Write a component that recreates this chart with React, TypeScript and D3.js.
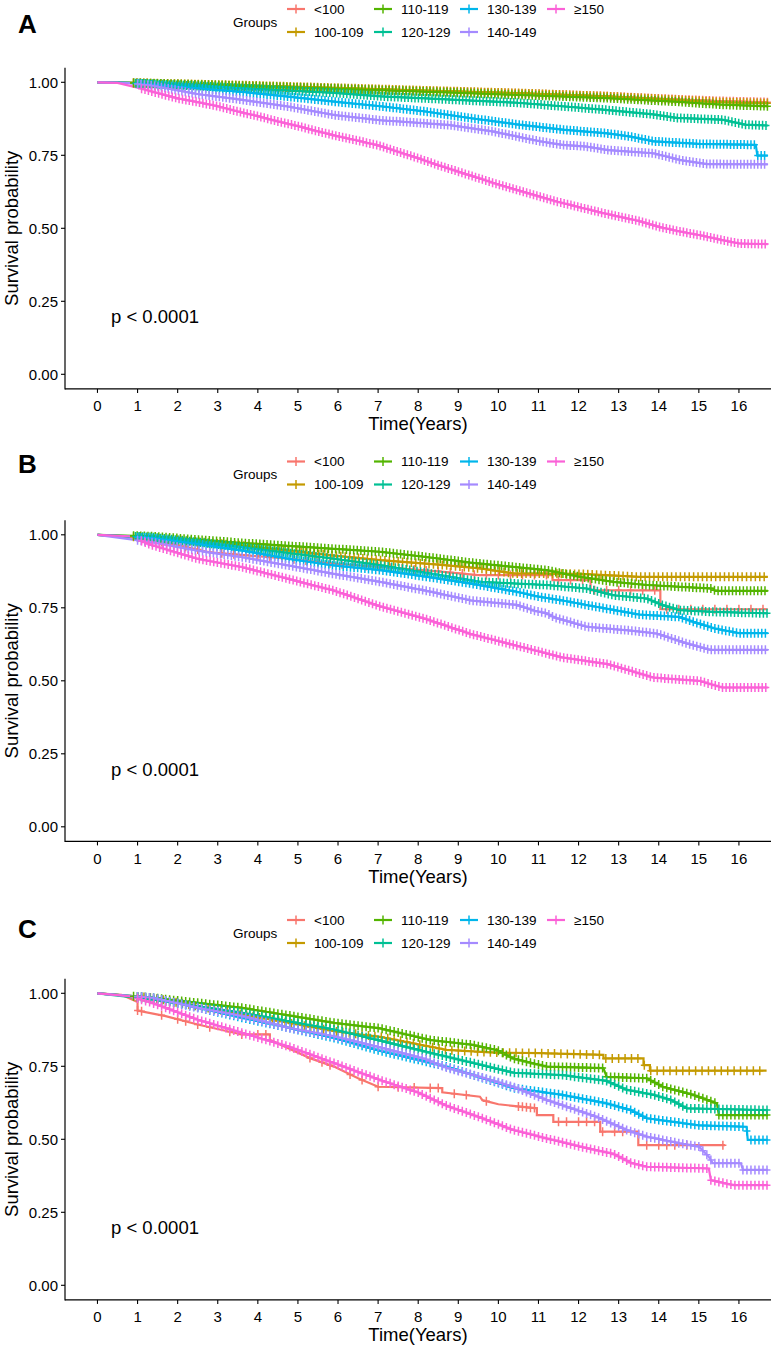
import React from "react";
import * as d3 from "d3";

const groups = ["<100", "100-109", "110-119", "120-129", "130-139", "140-149", "≥150"];
const groupColors = ["#F8766D", "#C49A00", "#53B400", "#00C094", "#00B6EB", "#A58AFF", "#FB61D7"];
const panelLabels = ["A", "B", "C"];
const pLabels = ["p < 0.0001", "p < 0.0001", "p < 0.0001"];
const xTickValues = [0, 1, 2, 3, 4, 5, 6, 7, 8, 9, 10, 11, 12, 13, 14, 15, 16];
const yTickValues = [0, 0.25, 0.5, 0.75, 1];

// survival curves, [years, probability], one list per group (same order as groups)
const curvesA = [
  [[0, 1], [0.9, 0.998], [2, 0.993], [4, 0.985], [6, 0.978], [8.2, 0.97], [10.5, 0.962], [12.7, 0.952], [14.4, 0.942], [15.5, 0.936], [16.72, 0.932]],
  [[0, 1], [1, 0.998], [3.6, 0.99], [6, 0.981], [8.2, 0.972], [10.5, 0.963], [12.7, 0.952], [14.4, 0.94], [15.5, 0.932], [16.72, 0.928]],
  [[0, 1], [0.9, 0.998], [3.6, 0.988], [6, 0.978], [8.2, 0.968], [10.5, 0.957], [12.7, 0.946], [14.4, 0.934], [15.5, 0.924], [16.72, 0.918]],
  [[0, 1], [0.5, 0.999], [1.35, 0.995], [3.62, 0.98], [5.9, 0.964], [7.06, 0.952], [8.18, 0.945], [10.46, 0.93], [11.59, 0.918], [12.73, 0.905], [13.87, 0.89], [14.44, 0.878], [15.58, 0.872], [16.15, 0.855], [16.72, 0.852]],
  [[0, 1], [0.8, 0.998], [1.35, 0.992], [2.49, 0.98], [3.62, 0.967], [4.76, 0.951], [5.9, 0.934], [7.06, 0.918], [8.18, 0.9], [9.32, 0.877], [10.46, 0.856], [11.59, 0.838], [12.73, 0.825], [13.3, 0.814], [13.87, 0.798], [15.01, 0.789], [16.42, 0.786], [16.46, 0.749], [16.72, 0.749]],
  [[0, 1], [0.8, 0.997], [1.35, 0.989], [2.49, 0.96], [3.62, 0.94], [4.76, 0.917], [5.9, 0.888], [7.06, 0.87], [8.75, 0.854], [9.89, 0.831], [11.03, 0.798], [11.59, 0.786], [12.2, 0.78], [12.73, 0.768], [13.87, 0.757], [14.53, 0.734], [15.2, 0.72], [16.72, 0.719]],
  [[0, 1], [0.5, 0.998], [1, 0.982], [1.5, 0.963], [2, 0.945], [2.5, 0.932], [3, 0.918], [3.5, 0.9], [4, 0.884], [4.5, 0.866], [5, 0.85], [5.5, 0.832], [6, 0.815], [6.5, 0.8], [7, 0.784], [7.5, 0.762], [8, 0.74], [8.5, 0.716], [9, 0.694], [9.5, 0.672], [10, 0.65], [10.5, 0.63], [11, 0.61], [11.5, 0.59], [12, 0.573], [12.5, 0.556], [13, 0.54], [13.5, 0.525], [14, 0.505], [14.5, 0.49], [15, 0.477], [15.5, 0.462], [16, 0.448], [16.72, 0.446]],
];

const curvesB = [
  [[0, 1], [1, 0.99], [2, 0.965], [2.8, 0.94], [4.76, 0.918], [6, 0.9], [7.05, 0.89], [8.5, 0.875], [9.5, 0.862], [11.35, 0.862], [11.35, 0.845], [12.3, 0.845], [12.3, 0.81], [14.04, 0.81], [14.04, 0.745], [16.72, 0.745]],
  [[0, 1], [1.35, 0.99], [3.62, 0.963], [5.9, 0.929], [7.05, 0.913], [8.5, 0.898], [9.54, 0.885], [10.37, 0.868], [12.04, 0.866], [13.53, 0.856], [16.72, 0.856]],
  [[0, 1], [1.35, 0.995], [3.62, 0.972], [5.9, 0.952], [7.05, 0.942], [8.2, 0.924], [9.3, 0.905], [10.37, 0.89], [11.2, 0.879], [12.04, 0.856], [12.87, 0.839], [13.7, 0.828], [15.36, 0.816], [15.4, 0.808], [16.72, 0.808]],
  [[0, 1], [1.35, 0.992], [3.62, 0.958], [5.9, 0.918], [7.05, 0.896], [8.2, 0.87], [9.54, 0.839], [11.2, 0.828], [12.2, 0.816], [12.87, 0.793], [13.7, 0.782], [14.1, 0.759], [14.53, 0.742], [15.36, 0.736], [16.72, 0.731]],
  [[0, 1], [1.35, 0.989], [2.49, 0.969], [3.62, 0.946], [4.76, 0.918], [5.9, 0.895], [7.05, 0.879], [8.18, 0.857], [9.32, 0.833], [10.46, 0.805], [11, 0.788], [11.6, 0.775], [12.3, 0.757], [12.9, 0.742], [13.5, 0.727], [14.5, 0.719], [14.9, 0.7], [15.4, 0.679], [16, 0.663], [16.72, 0.663]],
  [[0, 1], [1.35, 0.975], [2.49, 0.946], [3.62, 0.923], [4.76, 0.895], [5.9, 0.866], [7.05, 0.839], [8.18, 0.809], [9.32, 0.775], [10.46, 0.76], [10.9, 0.74], [11.2, 0.731], [11.4, 0.717], [12.2, 0.685], [13.3, 0.672], [13.95, 0.662], [14.7, 0.628], [15.28, 0.606], [16.72, 0.606]],
  [[0, 1], [0.8, 0.995], [1.35, 0.965], [2.49, 0.918], [3.62, 0.889], [4.76, 0.849], [5.9, 0.809], [7.05, 0.755], [8.18, 0.712], [9.32, 0.66], [10.46, 0.62], [11.59, 0.58], [12.73, 0.557], [13.87, 0.511], [15.01, 0.5], [15.58, 0.477], [16.72, 0.477]],
];

const curvesC = [
  [[0, 1], [0.6, 0.995], [1, 0.97], [1, 0.941], [1.7, 0.922], [2.5, 0.893], [3.6, 0.859], [4.3, 0.859], [4.3, 0.841], [5.3, 0.778], [5.9, 0.749], [6.5, 0.709], [7, 0.68], [8.6, 0.675], [8.6, 0.661], [9.54, 0.646], [9.6, 0.634], [10, 0.62], [10.96, 0.606], [10.96, 0.583], [11.37, 0.583], [11.37, 0.56], [12.54, 0.56], [12.54, 0.526], [13.49, 0.526], [13.49, 0.48], [15.65, 0.48]],
  [[0, 1], [1.35, 0.985], [3.62, 0.928], [5.9, 0.87], [7.05, 0.851], [8.71, 0.806], [9.9, 0.797], [11.04, 0.795], [12.62, 0.789], [12.62, 0.777], [13.62, 0.777], [13.62, 0.754], [13.78, 0.754], [13.78, 0.735], [16.69, 0.735]],
  [[0, 1], [1.35, 0.985], [3.62, 0.95], [5.9, 0.899], [7.05, 0.88], [8.3, 0.84], [9.32, 0.824], [9.96, 0.806], [10.37, 0.777], [11.2, 0.749], [12.62, 0.744], [12.7, 0.714], [13.7, 0.709], [14.1, 0.68], [14.86, 0.652], [15.45, 0.623], [15.5, 0.583], [16.72, 0.583]],
  [[0, 1], [1.35, 0.979], [3.62, 0.933], [5.9, 0.876], [7.05, 0.838], [8.71, 0.783], [10.37, 0.728], [11.6, 0.72], [12.7, 0.7], [13.19, 0.67], [13.87, 0.652], [14.3, 0.635], [14.7, 0.606], [16.72, 0.6]],
  [[0, 1], [1.35, 0.985], [2.49, 0.951], [3.62, 0.916], [4.76, 0.882], [5.9, 0.847], [7.05, 0.803], [8.71, 0.749], [10.4, 0.675], [11.6, 0.652], [12.7, 0.623], [13.3, 0.6], [13.7, 0.572], [15, 0.548], [16.19, 0.543], [16.22, 0.498], [16.72, 0.498]],
  [[0, 1], [1.35, 0.985], [2.49, 0.951], [3.62, 0.922], [4.76, 0.882], [5.9, 0.853], [7.05, 0.815], [8.18, 0.775], [8.71, 0.745], [9.54, 0.714], [10.37, 0.68], [11.2, 0.635], [12.45, 0.577], [13.2, 0.532], [13.7, 0.509], [14.53, 0.486], [15, 0.475], [15.25, 0.44], [15.35, 0.418], [16.05, 0.418], [16.1, 0.395], [16.72, 0.395]],
  [[0, 1], [0.8, 0.99], [1.35, 0.968], [2.49, 0.91], [3.62, 0.864], [4.76, 0.818], [5.9, 0.761], [7.05, 0.703], [8, 0.66], [8.71, 0.615], [9.54, 0.575], [10.37, 0.532], [11.2, 0.503], [12.04, 0.475], [12.87, 0.45], [13.3, 0.42], [13.7, 0.406], [15.25, 0.4], [15.3, 0.36], [15.86, 0.343], [16.72, 0.343]],
];

// censoring marks: dense runs [from, to, every] or explicit times
const censorA = [
  { from: 0.9, to: 16.72, every: 0.085 },
  { from: 0.9, to: 16.72, every: 0.085 },
  { from: 0.9, to: 16.72, every: 0.085 },
  { from: 0.95, to: 16.72, every: 0.085 },
  { from: 1.0, to: 16.72, every: 0.085 },
  { from: 1.0, to: 16.72, every: 0.085 },
  { from: 1.1, to: 16.72, every: 0.085 },
];
const censorB = [
  { from: 1.0, to: 16.72, every: 0.3 },
  { from: 0.9, to: 16.72, every: 0.11 },
  { from: 0.9, to: 16.72, every: 0.09 },
  { from: 0.95, to: 16.72, every: 0.09 },
  { from: 1.0, to: 16.72, every: 0.09 },
  { from: 1.0, to: 16.72, every: 0.09 },
  { from: 1.1, to: 16.72, every: 0.09 },
];
const censorC = [
  { at: [1.0, 1.1, 1.6, 2.0, 2.2, 2.5, 2.8, 3.3, 3.6, 4.0, 4.2, 5.3, 5.6, 5.8, 6.3, 6.6, 7.0, 7.5, 7.9, 8.3, 8.5, 8.9, 9.2, 9.7, 10.5, 10.6, 10.7, 10.8, 10.9, 11.5, 11.7, 12.0, 12.2, 12.4, 12.6, 12.9, 13.1, 13.7, 14.0, 14.2, 14.4, 14.7, 15.6] },
  { from: 1.0, to: 16.6, every: 0.16 },
  { from: 0.9, to: 16.72, every: 0.1 },
  { from: 1.0, to: 16.72, every: 0.1 },
  { from: 1.0, to: 16.72, every: 0.1 },
  { from: 1.0, to: 16.72, every: 0.1 },
  { from: 1.0, to: 16.72, every: 0.1 },
];

const panelCurves = [curvesA, curvesB, curvesC];
const panelCensor = [censorA, censorB, censorC];

const panelTop = [0, 452.5, 911];
const letterBaseline = [33, 20.5, 27];
const FONT = "'Liberation Sans', Arial, Helvetica, sans-serif";

const plotLeft = 65;
const plotRight = 771;
const plotTop = 67.7;
const plotBottom = 388.9;

const x = d3.scaleLinear().domain([-0.81, 16.8]).range([plotLeft, plotRight]);
const y = d3.scaleLinear().domain([-0.05, 1.05]).range([plotBottom, plotTop]);

const line = d3
  .line<number[]>()
  .x((d) => x(d[0]))
  .y((d) => y(d[1]));

const bisect = d3.bisector((d: number[]) => d[0]).right;

function valueAt(pts: number[][], t: number) {
  const i = bisect(pts, t) - 1;
  if (i < 0) return pts[0][1];
  if (i >= pts.length - 1) return pts[pts.length - 1][1];
  const a = pts[i];
  const b = pts[i + 1];
  return a[1] + ((t - a[0]) / (b[0] - a[0])) * (b[1] - a[1]);
}

function censorTimes(spec: any, pts: number[][]) {
  const end = pts[pts.length - 1][0];
  const times = spec.at ? spec.at : d3.range(spec.from, spec.to + 1e-6, spec.every);
  return times.filter((t: number) => t <= end + 1e-6);
}

// legend grid, ggplot style two rows
const legendCols = [296, 383, 469, 556];
const legendRows = [9, 32];

function Panel({ index }: { index: number }) {
  const curves = panelCurves[index];
  const censor = panelCensor[index];
  return (
    <g transform={`translate(0,${panelTop[index]})`}>
      <text x={18} y={letterBaseline[index]} fontSize={26} fontWeight="bold" fontFamily={FONT}>
        {panelLabels[index]}
      </text>

      {/* legend */}
      <text x={233} y={22} dy="0.35em" fontSize={13.5} fontFamily={FONT}>
        Groups
      </text>
      {groups.map((g, i) => {
        const cx = legendCols[Math.floor(i / 2)];
        const cy = legendRows[i % 2];
        return (
          <g key={g}>
            <line x1={cx - 9} x2={cx + 9} y1={cy} y2={cy} stroke={groupColors[i]} strokeWidth={2.2} />
            <line x1={cx} x2={cx} y1={cy - 4.5} y2={cy + 4.5} stroke={groupColors[i]} strokeWidth={1.5} />
            <text x={cx + 18} y={cy} dy="0.35em" fontSize={13.5} fontFamily={FONT}>
              {g}
            </text>
          </g>
        );
      })}

      {/* curves */}
      {curves.map((pts, i) => (
        <path key={`c${i}`} d={line(pts as number[][]) || ""} fill="none" stroke={groupColors[i]} strokeWidth={2.2} />
      ))}
      {curves.map((pts, i) => (
        <g key={`m${i}`} stroke={groupColors[i]} strokeWidth={1.5}>
          {censorTimes(censor[i], pts as number[][]).map((t: number, k: number) => {
            const px = x(t);
            const py = y(valueAt(pts as number[][], t));
            return <path key={k} d={`M${px},${py - 4.5}V${py + 4.5}M${px - 3.5},${py}H${px + 3.5}`} />;
          })}
        </g>
      ))}

      <text x={111} y={317} dy="0.35em" fontSize={18.5} fontFamily={FONT}>
        {pLabels[index]}
      </text>

      {/* axes */}
      <line x1={plotLeft} x2={plotLeft} y1={plotTop} y2={plotBottom + 0.6} stroke="#000" strokeWidth={1.2} />
      <line x1={plotLeft} x2={plotRight} y1={plotBottom} y2={plotBottom} stroke="#000" strokeWidth={1.2} />
      {yTickValues.map((v) => (
        <g key={`y${v}`}>
          <line x1={plotLeft - 4} x2={plotLeft} y1={y(v)} y2={y(v)} stroke="#000" strokeWidth={1.1} />
          <text x={plotLeft - 7} y={y(v)} dy="0.35em" textAnchor="end" fontSize={15} fontFamily={FONT}>
            {d3.format(".2f")(v)}
          </text>
        </g>
      ))}
      {xTickValues.map((v) => (
        <g key={`x${v}`}>
          <line x1={x(v)} x2={x(v)} y1={plotBottom} y2={plotBottom + 4} stroke="#000" strokeWidth={1.1} />
          <text x={x(v)} y={plotBottom + 17} dy="0.35em" textAnchor="middle" fontSize={15} fontFamily={FONT}>
            {v}
          </text>
        </g>
      ))}
      <text x={(plotLeft + plotRight) / 2} y={424} dy="0.35em" textAnchor="middle" fontSize={18.5} fontFamily={FONT}>
        Time(Years)
      </text>
      <text
        transform={`translate(12,${(plotTop + plotBottom) / 2}) rotate(-90)`}
        dy="0.35em"
        textAnchor="middle"
        fontSize={18.5}
        fontFamily={FONT}
      >
        Survival probability
      </text>
    </g>
  );
}

export default function App() {
  return (
    <svg
      width={776}
      height={1351}
      style={{ position: "absolute", left: 0, top: 0, background: "#fff" }}
    >
      <rect width={776} height={1351} fill="#fff" />
      {panelLabels.map((_, i) => (
        <Panel key={i} index={i} />
      ))}
    </svg>
  );
}
